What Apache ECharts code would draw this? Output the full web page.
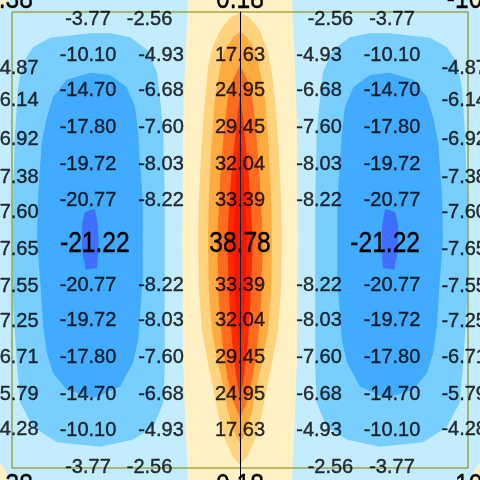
<!DOCTYPE html>
<html>
<head>
<meta charset="utf-8">
<script src="https://cdn.jsdelivr.net/npm/echarts@6/dist/echarts.min.js"></script>
<style>
html, body { margin: 0; padding: 0; background: #c3ecff; }
#main { width: 480px; height: 480px; }
</style>
</head>
<body>
<div id="main"></div>
<script>
// label rows (y) and columns (x)
const innerRowY = [2.90, 2.43, 1.97, 1.48, 0.99, 0.52, -0.05, -0.60, -1.06, -1.55, -2.03, -2.50, -2.99]
const edgeRowY = [2.26, 1.83, 1.32, 0.82, 0.36, -0.13, -0.61, -1.07, -1.55, -2.03, -2.49]
const colAValues = [-3.77, -10.10, -14.70, -17.80, -19.72, -20.77, -21.22, -20.77, -19.72, -17.80, -14.70, -10.10, -3.77]
const colBValues = [-2.56, -4.93, -6.68, -7.60, -8.03, -8.22, null, -8.22, -8.03, -7.60, -6.68, -4.93, -2.56]
const centerValues = [null, 17.63, 24.95, 29.45, 32.04, 33.39, 38.78, 33.39, 32.04, 29.45, 24.95, 17.63, null]
const edgeValues = [-4.87, -6.14, -6.92, -7.38, -7.60, -7.65, -7.55, -7.25, -6.71, -5.79, -4.28]
const cornerLabels = [
  [-3.04, 3.16, 0.38], [0, 3.16, 0.18], [3.18, 3.16, -10.10],
  [-3.04, -3.24, 0.38], [0, -3.24, 0.18], [3.18, -3.24, -10.10]
]

// contour bands (outline points in data units)
const lightBlueL = [[-1.97, 2.72], [-1.71, 2.72], [-1.45, 2.67], [-1.22, 2.50], [-1.09, 2.20], [-1.05, 1.84], [-1.01, 1.41], [-0.99, 0.53], [-0.99, -0.79], [-0.99, -1.71], [-1.01, -2.14], [-1.14, -2.46], [-1.41, -2.63], [-1.84, -2.72], [-2.41, -2.66], [-2.72, -2.46], [-2.89, -2.14], [-2.93, -1.71], [-2.99, -0.79], [-2.99, 0.53], [-2.96, 1.41], [-2.92, 2.01], [-2.86, 2.33], [-2.72, 2.54], [-2.50, 2.66]]
const lightBlueR = [[1.97, 2.72], [1.71, 2.72], [1.45, 2.67], [1.22, 2.50], [1.09, 2.20], [1.05, 1.84], [1.01, 1.41], [0.99, 0.53], [0.99, -0.79], [0.99, -1.71], [1.01, -2.14], [1.14, -2.46], [1.41, -2.63], [1.84, -2.72], [2.41, -2.66], [2.72, -2.46], [2.89, -2.14], [2.93, -1.71], [2.99, -0.79], [2.99, 0.53], [2.96, 1.41], [2.92, 2.01], [2.86, 2.33], [2.72, 2.54], [2.50, 2.66]]
const midBlueL = [[-1.97, 2.20], [-1.71, 2.17], [-1.49, 2.01], [-1.38, 1.75], [-1.34, 1.41], [-1.32, 1.09], [-1.28, 0.53], [-1.28, -0.53], [-1.32, -1.05], [-1.34, -1.32], [-1.41, -1.62], [-1.58, -1.93], [-1.93, -2.08], [-2.28, -1.97], [-2.46, -1.75], [-2.54, -1.49], [-2.59, -1.14], [-2.63, -0.53], [-2.67, 0], [-2.66, 0.53], [-2.61, 1.28], [-2.54, 1.62], [-2.46, 1.88], [-2.28, 2.11]]
const midBlueR = [[1.97, 2.20], [1.71, 2.17], [1.49, 2.01], [1.38, 1.75], [1.34, 1.41], [1.32, 1.09], [1.28, 0.53], [1.28, -0.53], [1.32, -1.05], [1.34, -1.32], [1.41, -1.62], [1.58, -1.93], [1.93, -2.08], [2.28, -1.97], [2.46, -1.75], [2.54, -1.49], [2.59, -1.14], [2.63, -0.53], [2.67, 0], [2.66, 0.53], [2.61, 1.28], [2.54, 1.62], [2.46, 1.88], [2.28, 2.11]]
const darkBlueL = [[-2.04, 0.37], [-1.91, 0.41], [-1.87, 0.20], [-1.86, -0.07], [-1.88, -0.37], [-2.03, -0.39], [-2.08, -0.13], [-2.08, 0.20]]
const darkBlueR = [[2.04, 0.37], [1.91, 0.41], [1.87, 0.20], [1.86, -0.07], [1.88, -0.37], [2.03, -0.39], [2.08, -0.13], [2.08, 0.20]]
const creamStrip = [[-0.68, 3.22], [-0.72, 2.37], [-0.75, 1.58], [-0.76, 0], [-0.75, -1.58], [-0.72, -2.37], [-0.68, -3.22], [0.68, -3.22], [0.72, -2.37], [0.75, -1.58], [0.76, 0], [0.75, 1.58], [0.72, 2.37], [0.68, 3.22]]
const creamTL = [[-3.22, 3.22], [-3.05, 3.22], [-3.07, 3.13], [-3.11, 3.07], [-3.16, 3.01], [-3.22, 3.0]]
const creamTR = [[3.22, 3.22], [3.05, 3.22], [3.07, 3.13], [3.11, 3.07], [3.16, 3.01], [3.22, 3.0]]
const creamBL = [[-3.22, -2.92], [-3.13, -2.96], [-3.08, -3.05], [-3.04, -3.22], [-3.22, -3.22]]
const creamBR = [[3.22, -2.92], [3.13, -2.96], [3.08, -3.05], [3.04, -3.22], [3.22, -3.22]]
const lightOrange = [[0, 2.99], [-0.13, 2.92], [-0.26, 2.76], [-0.36, 2.54], [-0.42, 2.28], [-0.46, 1.84], [-0.51, 1.18], [-0.54, 0.53], [-0.55, 0], [-0.54, -0.66], [-0.5, -1.18], [-0.43, -1.58], [-0.36, -1.91], [-0.29, -2.28], [-0.21, -2.59], [-0.09, -2.86], [0, -2.96], [0.09, -2.86], [0.21, -2.59], [0.29, -2.28], [0.36, -1.91], [0.43, -1.58], [0.5, -1.18], [0.54, -0.66], [0.55, 0], [0.54, 0.53], [0.51, 1.18], [0.47, 1.75], [0.42, 2.2], [0.36, 2.5], [0.26, 2.76], [0.13, 2.92]]
const orange = [[0, 2.74], [-0.09, 2.67], [-0.2, 2.5], [-0.26, 2.28], [-0.33, 1.84], [-0.38, 1.18], [-0.41, 0.53], [-0.42, 0], [-0.41, -0.66], [-0.37, -1.18], [-0.3, -1.58], [-0.22, -1.91], [-0.17, -2.2], [-0.09, -2.5], [0, -2.67], [0.09, -2.5], [0.17, -2.2], [0.22, -1.91], [0.3, -1.58], [0.37, -1.18], [0.41, -0.66], [0.42, 0], [0.41, 0.53], [0.38, 1.18], [0.33, 1.84], [0.27, 2.2], [0.2, 2.5], [0.09, 2.67]]
const darkOrange = [[0, 2.30], [-0.09, 2.12], [-0.16, 1.88], [-0.21, 1.45], [-0.26, 0.79], [-0.3, 0], [-0.28, -0.79], [-0.23, -1.38], [-0.16, -1.84], [-0.08, -2.15], [0, -2.34], [0.08, -2.15], [0.16, -1.84], [0.23, -1.38], [0.28, -0.79], [0.3, 0], [0.26, 0.79], [0.21, 1.45], [0.16, 1.88], [0.09, 2.12]]
const red = [[0, 1.91], [-0.05, 1.5], [-0.12, 0.79], [-0.17, 0], [-0.14, -0.79], [-0.1, -1.4], [-0.05, -1.8], [0, -2.1], [0.05, -1.8], [0.1, -1.4], [0.14, -0.79], [0.17, 0], [0.12, 0.79], [0.05, 1.5]]
const deepRed = [[0, 1.4], [-0.05, 0.8], [-0.09, 0], [-0.06, -0.8], [0, -1.45], [0.06, -0.8], [0.09, 0], [0.05, 0.8]]

const bands = [
  { color: '#78cfff', polys: [lightBlueL, lightBlueR] },
  { color: '#40abff', polys: [midBlueL, midBlueR] },
  { color: '#3e6fff', polys: [darkBlueL, darkBlueR] },
  { color: '#fff1c3', polys: [creamStrip, creamTL, creamTR, creamBL, creamBR] },
  { color: '#ffd27e', polys: [lightOrange] },
  { color: '#ffab40', polys: [orange] },
  { color: '#ff6c1f', polys: [darkOrange] },
  { color: '#ff2b00', polys: [red] },
  { color: '#ff1400', polys: [deepRed] }
]
const polys = []
bands.forEach(b => b.polys.forEach(p => polys.push({ pts: p, color: b.color })))

// normal labels go to a scatter, the big (condensed) ones to a custom text series
const labelData = []
const bigData = []
innerRowY.forEach((y, i) => {
  const big = i === 6
  const push = (x, v) => {
    if (v === null) return
    if (big) bigData.push([x, y, v])
    else labelData.push([x, y, v])
  }
  const ax = big ? 1.91 : 2
  push(-ax, colAValues[i]); push(ax, colAValues[i])
  const bx = (i === 0 || i === 12) ? 1.19 : 1.04
  push(-bx, colBValues[i]); push(bx, colBValues[i])
  push(0, centerValues[i])
})
edgeRowY.forEach((y, i) => {
  labelData.push([-2.95, y, edgeValues[i]])
  labelData.push([2.95, y, edgeValues[i]])
})
cornerLabels.forEach(c => bigData.push(c))

const myChart = echarts.init(document.getElementById('main'))
const option = {
  backgroundColor: '#c3ecff',
  animation: false,
  grid: { left: 12, right: 12, top: 12, bottom: 0 },
  xAxis: {
    type: 'value', min: -3, max: 3,
    axisLine: { show: false }, axisTick: { show: false }, axisLabel: { show: false }, splitLine: { show: false }
  },
  yAxis: {
    type: 'value', min: -3.158, max: 3, z: 3,
    axisLine: { show: true, onZero: true, lineStyle: { color: '#000', width: 1 } },
    axisTick: { show: false }, axisLabel: { show: false }, splitLine: { show: false }
  },
  series: [
    {
      type: 'custom',
      z: 1,
      clip: false,
      data: polys.map((p, i) => [i]),
      renderItem: (params, api) => {
        const p = polys[params.dataIndex]
        return {
          type: 'polygon',
          shape: { points: p.pts.map(pt => api.coord(pt)) },
          style: { fill: p.color }
        }
      }
    },
    {
      type: 'custom',
      z: 2,
      clip: false,
      data: [[-3, 3, 3, -3]],
      renderItem: (params, api) => {
        const a = api.coord([api.value(0), api.value(1)])
        const b = api.coord([api.value(2), api.value(3)])
        return {
          type: 'rect',
          shape: { x: a[0], y: a[1], width: b[0] - a[0], height: b[1] - a[1] },
          style: { fill: 'none', stroke: '#808000', lineWidth: 1 }
        }
      }
    },
    {
      type: 'scatter',
      z: 4,
      clip: false,
      symbolSize: 1,
      itemStyle: { color: 'rgba(0,0,0,0)' },
      data: labelData,
      label: {
        show: true,
        position: 'inside',
        color: '#000',
        fontSize: 20,
        fontFamily: 'Liberation Sans, Arial, sans-serif',
        textBorderColor: '#000',
        textBorderWidth: 0.4,
        formatter: p => p.value[2].toFixed(2)
      }
    },
    {
      type: 'custom',
      z: 4,
      clip: false,
      data: bigData,
      renderItem: (params, api) => {
        const pt = api.coord([api.value(0), api.value(1)])
        return {
          type: 'text',
          x: pt[0],
          y: pt[1],
          scaleX: 0.82,
          style: {
            text: api.value(2).toFixed(2),
            fontSize: 30,
            fontFamily: 'Liberation Sans, Arial, sans-serif',
            fill: '#000',
            stroke: '#000',
            lineWidth: 0.4,
            align: 'center',
            verticalAlign: 'middle'
          }
        }
      }
    }
  ]
}
myChart.setOption(option)
</script>
</body>
</html>
